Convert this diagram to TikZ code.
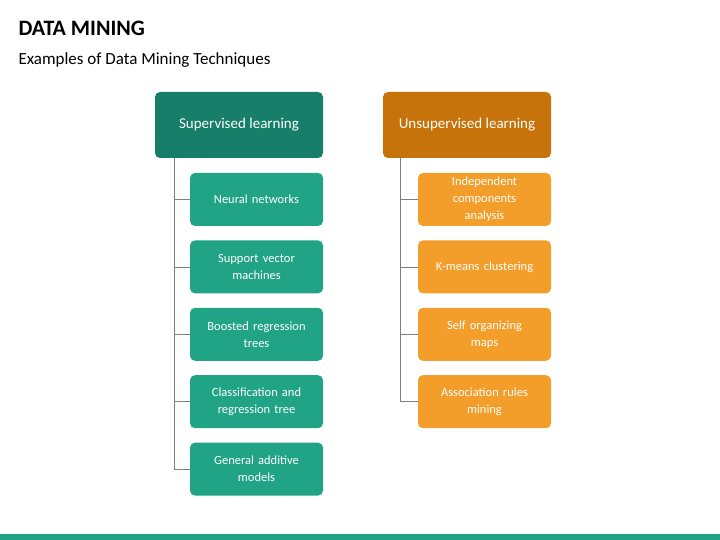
\documentclass[tikz,border=0pt]{standalone}
\usepackage{fontspec}
\setmainfont{Carlito}
\usetikzlibrary{positioning}
\definecolor{tealdark}{HTML}{177F69}
\definecolor{teallight}{HTML}{21A385}
\definecolor{orangedark}{HTML}{C5730A}
\definecolor{orangelight}{HTML}{F39D2A}
\definecolor{linegray}{HTML}{7F7F7F}

\begin{document}
\begin{tikzpicture}[
  x=1pt, y=-1pt,
  headnode/.style={rectangle, rounded corners=5pt, minimum width=168pt, minimum height=66pt, inner sep=2pt, font=\fontsize{15}{18}\selectfont, text=white, align=center},
  itemnode/.style={rectangle, rounded corners=5pt, minimum width=133pt, minimum height=53pt, text width=120pt, inner sep=2pt, font=\fontsize{12.5}{17}\selectfont, text=white, align=center},
  link/.style={linegray, line width=0.6pt}
]
\useasboundingbox (0,0) rectangle (720,540);
\fill[teallight] (0,534) rectangle (720,540);

% Titles
\node[anchor=west, font=\fontsize{22}{26}\selectfont\bfseries] (title) at (15,28) {DATA MINING};
\node[anchor=west, font=\fontsize{17}{20}\selectfont] (subtitle) at (15,60) {Examples of Data Mining Techniques};

% Supervised
\node[headnode, fill=tealdark] (sup) at (239,125) {Supervised learning};
\node[itemnode, fill=teallight] (s1) at (256.5,199.5) {Neural networks};
\node[itemnode, fill=teallight] (s2) [below=14pt of s1] {Support vector\\machines};
\node[itemnode, fill=teallight] (s3) [below=14pt of s2] {Boosted regression\\trees};
\node[itemnode, fill=teallight] (s4) [below=14pt of s3] {Classification and\\regression tree};
\node[itemnode, fill=teallight] (s5) [below=14pt of s4] {General additive\\models};

% Unsupervised
\node[headnode, fill=orangedark] (uns) at (467,125) {Unsupervised learning};
\node[itemnode, fill=orangelight] (u1) at (484.5,199.5) {Independent\\components\\analysis};
\node[itemnode, fill=orangelight] (u2) [below=14pt of u1] {K-means clustering};
\node[itemnode, fill=orangelight] (u3) [below=14pt of u2] {Self organizing\\maps};
\node[itemnode, fill=orangelight] (u4) [below=14pt of u3] {Association rules\\mining};

% Links
\coordinate (supx) at ([xshift=-65pt]sup.south);
\foreach \n in {s1,s2,s3,s4,s5}
  \draw[link] (supx) |- (\n.west);
\coordinate (unsx) at ([xshift=-67pt]uns.south);
\foreach \n in {u1,u2,u3,u4}
  \draw[link] (unsx) |- (\n.west);
\end{tikzpicture}
\end{document}
